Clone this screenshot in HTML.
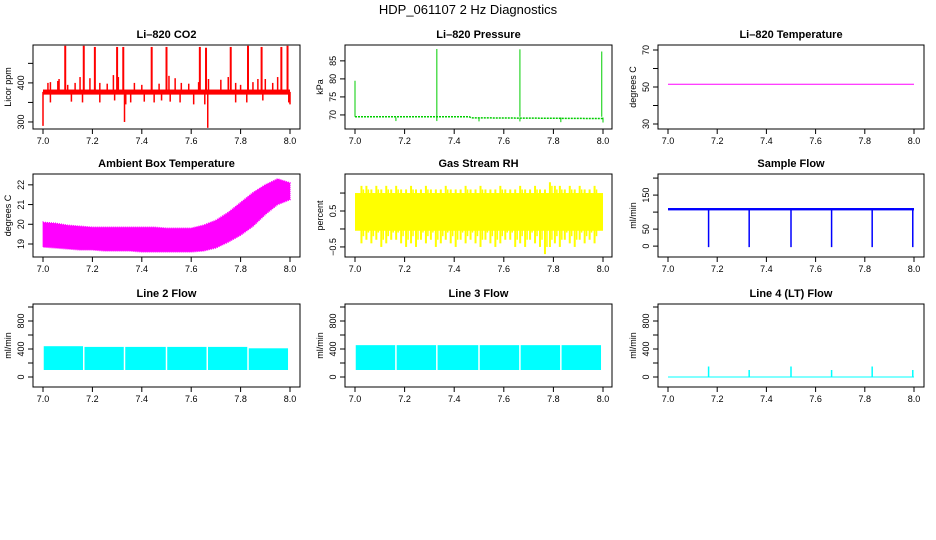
<!DOCTYPE html>
<html><head><meta charset="utf-8"><style>
body{margin:0;background:#fff}
svg{display:block;font-family:"Liberation Sans",sans-serif}
</style></head><body>
<svg id="c" width="936" height="540" viewBox="0 0 936 540">
<text x="468" y="14" text-anchor="middle" font-size="13">HDP_061107  2 Hz Diagnostics</text>
</svg>
<script>
// ---- data ----
const xTicks=[7.0,7.2,7.4,7.6,7.8,8.0];
const xTickLabels=["7.0","7.2","7.4","7.6","7.8","8.0"];
const co2Base=[370,383];
const co2UpX=[7.09,7.165,7.21,7.30,7.325,7.44,7.50,7.635,7.66,7.76,7.83,7.885,7.965,7.99];
const co2UpV=[495,495,492,492,492,492,492,492,490,492,495,492,492,495];
const co2SmX=[7.02,7.03,7.06,7.065,7.10,7.13,7.15,7.19,7.23,7.26,7.285,7.305,7.37,7.40,7.47,7.51,7.535,7.56,7.59,7.63,7.67,7.72,7.75,7.78,7.80,7.85,7.87,7.90,7.93,7.95];
const co2SmV=[400,402,405,410,395,400,415,412,400,398,420,415,400,395,398,418,412,400,398,402,410,408,415,400,395,402,410,410,400,415];
const co2DnX=[7.0,7.03,7.115,7.16,7.23,7.29,7.33,7.335,7.355,7.41,7.45,7.48,7.515,7.555,7.61,7.655,7.667,7.78,7.825,7.89,7.995,8.0];
const co2DnV=[290,350,352,350,350,355,300,345,350,352,350,355,352,350,345,345,285,350,350,355,350,345];
const presBaseX=[7.0,7.46,7.47,8.0];
const presBaseV=[69.5,69.5,69.2,69.0];
const presSpX=[7.0,7.33,7.665,7.995];
const presSpV=[79.5,88.3,88.2,87.6];
const presDipX=[7.165,7.33,7.5,7.665,7.83,8.0];
const presDipV=[68.3,68.3,68.2,68.2,68.0,67.9];
const tempV=51.5;
const ambX=[7.0,7.05,7.1,7.15,7.2,7.25,7.3,7.35,7.4,7.45,7.5,7.55,7.6,7.65,7.7,7.75,7.8,7.85,7.9,7.95,8.0];
const ambLo=[18.85,18.8,18.75,18.7,18.7,18.65,18.65,18.65,18.6,18.6,18.6,18.6,18.6,18.65,18.8,19.1,19.45,19.9,20.5,21.0,21.25];
const ambHi=[20.1,20.05,19.95,19.9,19.85,19.85,19.85,19.85,19.85,19.85,19.8,19.8,19.8,19.95,20.2,20.6,21.1,21.6,22.0,22.3,22.1];
const rhCore=[-0.05,1.0];
const rhHi=[1.0,1.2,1.2,1.1,1.2,1.1,1.2,1.1,1.2,1.1,1.1,1.2,1.1,1.1,1.2,1.1,1.1,1.1,1.2,1.1,1.1,1.1,1.2,1.1,1.1,1.2,1.1,1.1,1.1,1.2,1.1,1.1,1.1,1.2,1.1,1.1,1.2,1.1,1.1,1.3,1.2,1.2,1.1,1.2,1.1,1.2,1.1,1.1,1.2,0.8];
const rhLo=[0.0,-0.4,-0.3,-0.4,-0.3,-0.5,-0.4,-0.3,-0.3,-0.4,-0.5,-0.4,-0.5,-0.3,-0.4,-0.3,-0.5,-0.4,-0.3,-0.4,-0.5,-0.3,-0.4,-0.3,-0.4,-0.5,-0.3,-0.4,-0.5,-0.4,-0.3,-0.3,-0.5,-0.4,-0.5,-0.3,-0.4,-0.5,-0.7,-0.5,-0.4,-0.5,-0.3,-0.4,-0.5,-0.3,-0.4,-0.3,-0.4,0.0];
const sfBase=[105,112];
const sfDipX=[7.165,7.33,7.5,7.665,7.83,7.995];
const sfDipV=[-3,-3,-3,-3,-3,-3];
const l2Lo=100, l2Hi=[440,430,430,430,430,410];
const l3Lo=100, l3Hi=[455,455,455,455,455,455];
const segX=[7.0,7.165,7.33,7.5,7.665,7.83,7.995];
const l4SpX=[7.165,7.33,7.5,7.665,7.83,7.995];
const l4SpV=[150,100,150,100,150,100];

// ---- layout ----
const svg=document.getElementById('c');
const NS='http://www.w3.org/2000/svg';
const cols=[{l:33,r:300,x0:43,x1:290},{l:345,r:612,x0:355,x1:603},{l:658,r:924,x0:668,x1:914}];
const rows=[{t:45,b:129},{t:174,b:257},{t:304,b:387}];
function mk(tag,at,parent){const e=document.createElementNS(NS,tag);for(const k in at)e.setAttribute(k,at[k]);(parent||svg).appendChild(e);return e;}

function panel(ci,ri,name,title,ylab,ymin,ymax,yt,ytl){
  const c=cols[ci],r=rows[ri];
  const g=mk('g',{});
  
  
  const X=v=>c.x0+(v-7)*(c.x1-c.x0);
  const Y=v=>r.b-(v-ymin)/(ymax-ymin)*(r.b-r.t);
  const t=mk('text',{x:(c.l+c.r)/2,y:r.t-7,'text-anchor':'middle','font-size':11,'font-weight':'bold'},g);
  t.textContent=title;
  
  
  const box=mk('rect',{x:c.l,y:r.t,width:c.r-c.l,height:r.b-r.t,fill:'none',stroke:'#000','stroke-width':1},g);
  
  
  const xa=mk('g',{},g);
  
  
  xTicks.forEach((v,i)=>{
    mk('line',{x1:X(v),x2:X(v),y1:r.b,y2:r.b+5,stroke:'#000'},xa);
    const tl=mk('text',{x:X(v),y:r.b+15,'text-anchor':'middle','font-size':9},xa);
    tl.textContent=xTickLabels[i];
  });
  const ya=mk('g',{},g);
  
  
  yt.forEach((v,i)=>{
    mk('line',{x1:c.l-5,x2:c.l,y1:Y(v),y2:Y(v),stroke:'#000'},ya);
    if(ytl[i]){const tl=mk('text',{x:c.l-9,y:Y(v),'text-anchor':'middle','font-size':9,transform:`rotate(-90 ${c.l-9} ${Y(v)})`},ya);tl.textContent=ytl[i];}
  });
  const yl=mk('text',{x:c.l-22,y:(r.t+r.b)/2,'text-anchor':'middle','font-size':9,transform:`rotate(-90 ${c.l-22} ${(r.t+r.b)/2})`},g);
  yl.textContent=ylab;
  
  
  const s=mk('g',{},g);
  
  
  return {X,Y,s};
}
function vline(p,x,v0,v1,col,w){mk('line',{x1:p.X(x),x2:p.X(x),y1:p.Y(v0),y2:p.Y(v1),stroke:col,'stroke-width':w||1.5},p.s);}
function band(p,x0,x1,v0,v1,col){mk('rect',{x:p.X(x0),y:p.Y(v1),width:p.X(x1)-p.X(x0),height:p.Y(v0)-p.Y(v1),fill:col},p.s);}

// CO2
let p=panel(0,0,'co2','Li\u2013820 CO2','Licor ppm',282,497,[300,350,400,450],['300','','400','']);
band(p,7.0,8.0,co2Base[0],co2Base[1],'#f00');
co2UpX.forEach((x,i)=>vline(p,x,377,co2UpV[i],'#f00',2));
co2SmX.forEach((x,i)=>vline(p,x,377,co2SmV[i],'#f00',1.5));
co2DnX.forEach((x,i)=>vline(p,x,377,co2DnV[i],'#f00',1.5));

// Pressure
p=panel(1,0,'pressure','Li\u2013820 Pressure','kPa',66.1,89.4,[70,75,80,85],['70','75','80','85']);
{let d='';presBaseX.forEach((x,i)=>d+=(i?'L':'M')+p.X(x)+' '+p.Y(presBaseV[i]));mk('path',{d,fill:'none',stroke:'#0c0','stroke-width':1.5,'stroke-dasharray':'2 1'},p.s);}
presSpX.forEach((x,i)=>vline(p,x,69.5,presSpV[i],'#0c0',1));
presDipX.forEach((x,i)=>vline(p,x,69.3,presDipV[i],'#0c0',1));

// Temperature
p=panel(2,0,'li820-temperature','Li\u2013820 Temperature','degrees C',27.3,72.7,[30,40,50,60,70],['30','','50','','70']);
mk('line',{x1:p.X(7),x2:p.X(8),y1:p.Y(tempV),y2:p.Y(tempV),stroke:'#f0f','stroke-width':1},p.s);

// Ambient
p=panel(0,1,'ambient-temperature','Ambient Box Temperature','degrees C',18.34,22.55,[19,20,21,22],['19','20','21','22']);
{let d='';ambX.forEach((x,i)=>d+=(i?'L':'M')+p.X(x)+' '+p.Y(ambHi[i]));for(let i=ambX.length-1;i>=0;i--)d+='L'+p.X(ambX[i])+' '+p.Y(ambLo[i]);mk('path',{d:d+'Z',fill:'#f0f',stroke:'#f0f','stroke-width':1.5,'stroke-dasharray':'1 1'},p.s);}

// RH
p=panel(1,1,'gas-stream-rh','Gas Stream RH','percent',-0.78,1.53,[-0.5,0,0.5,1],['\u22120.5','','0.5','']);
band(p,7.0,8.0,rhCore[0],rhCore[1],'#ff0');
rhHi.forEach((v,i)=>{const x=7+(i+0.5)/rhHi.length;vline(p,x-0.004,rhLo[i],v,'#ff0',2);vline(p,x+0.004,(rhLo[i]+0.2),v-0.1,'#ff0',1.5);});

// Sample flow
p=panel(2,1,'sample-flow','Sample Flow','ml/min',-32,212,[0,50,100,150,200],['0','50','','150','']);
band(p,7.0,8.0,sfBase[0],sfBase[1],'#00f');
sfDipX.forEach((x,i)=>vline(p,x,110,sfDipV[i],'#00f',1.5));

// Line 2
p=panel(0,2,'line2-flow','Line 2 Flow','ml/min',-143,1043,[0,200,400,600,800,1000],['0','','400','','800','']);
for(let i=0;i<segX.length-1;i++)band(p,segX[i]+0.003,segX[i+1]-0.003,l2Lo,l2Hi[i],'#0ff');
// Line 3
p=panel(1,2,'line3-flow','Line 3 Flow','ml/min',-143,1043,[0,200,400,600,800,1000],['0','','400','','800','']);
for(let i=0;i<segX.length-1;i++)band(p,segX[i]+0.003,segX[i+1]-0.003,l3Lo,l3Hi[i],'#0ff');
// Line 4
p=panel(2,2,'line4-flow','Line 4 (LT) Flow','ml/min',-143,1043,[0,200,400,600,800,1000],['0','','400','','800','']);
mk('line',{x1:p.X(7),x2:p.X(8),y1:p.Y(0),y2:p.Y(0),stroke:'#0ff','stroke-width':1},p.s);
l4SpX.forEach((x,i)=>vline(p,x,0,l4SpV[i],'#0ff',1.5));
</script>
</body></html>
